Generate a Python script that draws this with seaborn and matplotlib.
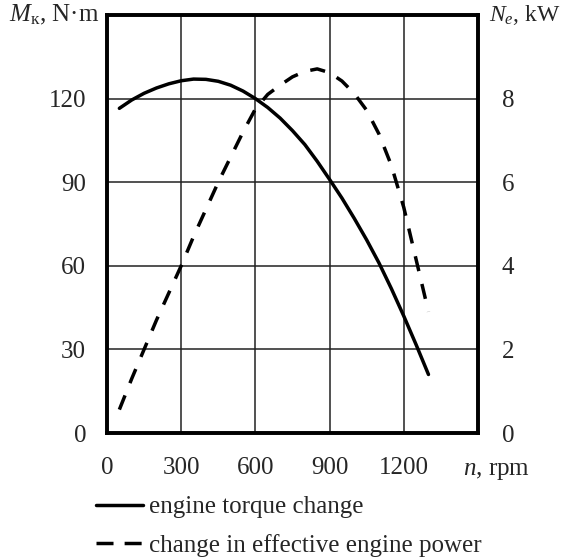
import numpy as np
import pandas as pd
import matplotlib
matplotlib.use("Agg")
import matplotlib.pyplot as plt
from matplotlib.lines import Line2D
import seaborn as sns

# Data
rpm_torque = [50, 100, 150, 200, 250, 300, 350, 400, 450, 500, 550, 600, 650, 700,
              750, 800, 850, 900, 950, 1000, 1050, 1100, 1150, 1200, 1250, 1300]
torque = [116.5, 119.5, 121.9, 123.8, 125.3, 126.4, 127.0, 126.9, 126.2, 124.8, 122.7,
          120.0, 116.8, 113.0, 108.5, 103.5, 97.5, 91.0, 84.3, 77.0, 69.3, 61.0,
          51.8, 42.0, 31.7, 21.0]

rpm_power = [50, 100, 150, 200, 250, 300, 350, 400, 450, 500, 550, 600, 650, 700,
             750, 800, 850, 900, 950, 1000, 1050, 1100, 1150, 1200, 1250, 1300]
power = [0.56, 1.3, 2.0, 2.7, 3.35, 4.0, 4.7, 5.35, 6.0, 6.6, 7.2, 7.75, 8.1, 8.32,
         8.52, 8.65, 8.71, 8.62, 8.42, 8.12, 7.72, 7.15, 6.4, 5.4, 4.15, 2.9]

x_ticks = [0, 300, 600, 900, 1200, 1500]
x_labels = ["0", "300", "600", "900", "1200", ""]
m_ticks = [0, 30, 60, 90, 120, 150]
m_labels = ["0", "30", "60", "90", "120", ""]
n_ticks = [0, 2, 4, 6, 8, 10]
n_labels = ["0", "2", "4", "6", "8", ""]

sns.set_theme(style="white")
plt.rcParams["font.family"] = ["Liberation Serif", "DejaVu Serif"]
plt.rcParams["mathtext.fontset"] = "custom"
plt.rcParams["mathtext.rm"] = "Liberation Serif"
plt.rcParams["mathtext.it"] = "Liberation Serif:italic"

fs = 18
lw = 2.5

fig = plt.figure(figsize=(5.62, 5.59), dpi=100)
ax = fig.add_axes([0.1904, 0.2254, 0.660, 0.7478])
ax2 = ax.twinx()

df_m = pd.DataFrame({"n": rpm_torque, "M": torque})
df_p = pd.DataFrame({"n": rpm_power, "N": power})

sns.lineplot(data=df_m, x="n", y="M", ax=ax, color="black", linewidth=lw)
sns.lineplot(data=df_p, x="n", y="N", ax=ax2, color="black", linewidth=lw,
             linestyle=(0, (4.4, 3.8)))

ax.set_xlim(0, 1500)
ax.set_ylim(0, 150)
ax2.set_ylim(0, 10)

ax.set_xticks(x_ticks)
ax.set_xticklabels(x_labels, fontsize=fs)
ax.set_yticks(m_ticks)
ax.set_yticklabels(m_labels, fontsize=fs)
ax2.set_yticks(n_ticks)
ax2.set_yticklabels(n_labels, fontsize=fs)

ax.tick_params(axis="x", length=0, pad=17)
ax.tick_params(axis="y", length=0, pad=15)
ax2.tick_params(axis="y", length=0, pad=17)

ax.set_xlabel("")
ax.set_ylabel("")
ax2.set_ylabel("")

ax.grid(True, color="#222222", linewidth=1.1)
ax2.grid(False)

for a in (ax, ax2):
    for s in a.spines.values():
        s.set_linewidth(2.6)
        s.set_color("black")
        s.set_visible(True)

ax.text(-0.02, 1.0, "$M_{\\mathrm{к}}$, N·m", transform=ax.transAxes,
        ha="right", va="center", fontsize=fs)
ax2.text(1.03, 1.0, "$N_{e}$, kW", transform=ax2.transAxes,
         ha="left", va="center", fontsize=17)
ax.text(0.96, -0.09, "$n$, rpm", transform=ax.transAxes,
        ha="left", va="center", fontsize=fs)

handles = [
    Line2D([], [], color="black", linewidth=lw),
    Line2D([], [], color="black", linewidth=lw, linestyle=(0, (4.9, 3.2))),
]
labels = ["engine torque change", "change in effective engine power"]
fig.legend(handles, labels, loc="upper left", bbox_to_anchor=(96 / 562, 1 - 496 / 559),
           frameon=False, fontsize=fs, handlelength=1.88, handletextpad=0.25,
           borderpad=0, borderaxespad=0, labelspacing=0.62)

fig.savefig("out.png", dpi=100)
